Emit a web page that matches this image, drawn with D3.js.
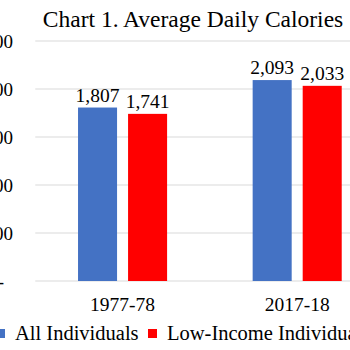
<!DOCTYPE html>
<html>
<head>
<meta charset="utf-8">
<script src="https://cdn.jsdelivr.net/npm/d3@7"></script>
<style>
  body { margin: 0; background: #fff; }
  svg { display: block; font-family: "Liberation Serif", "Times New Roman", serif; }
</style>
</head>
<body>
<svg width="350" height="350"></svg>
<script>
const categories = ["1977-78", "2017-18"];
const seriesNames = ["All Individuals", "Low-Income Individuals"];
const allIndividuals = [1807, 2093];
const lowIncome = [1741, 2033];
const yTicks = [0, 500, 1000, 1500, 2000, 2500];

const colors = ["#4472C4", "#FF0000"];
const values = [allIndividuals, lowIncome];

let svg = d3.select("svg");

let x = d3.scaleBand().domain(categories).range([35.25, 384.5]);
let xSub = d3.scaleBand().domain(seriesNames).range([0, x.bandwidth()])
    .paddingInner(0.22).paddingOuter(0.855);
let y = d3.scaleLinear().domain([0, 2500]).range([281, 41]);

// title
svg.append("text")
    .attr("x", 193)
    .attr("y", 27)
    .attr("text-anchor", "middle")
    .style("font-size", "23.5px")
    .style("fill", "#000")
    .text("Chart 1. Average Daily Calories");

// gridlines
svg.append("g")
  .selectAll("line")
  .data(yTicks)
  .join("line")
    .attr("x1", 35.25)
    .attr("x2", 350)
    .attr("y1", d => y(d))
    .attr("y2", d => y(d))
    .attr("stroke", "#d9d9d9")
    .attr("stroke-width", 1);

// y labels (accounting format, 0 shown as dash)
svg.append("g")
  .selectAll("text")
  .data(yTicks)
  .join("text")
    .attr("x", d => d === 0 ? 4 : 13)
    .attr("y", d => y(d))
    .attr("dy", "0.35em")
    .attr("text-anchor", "end")
    .style("font-size", "19px")
    .text(d => d === 0 ? "-" : d3.format(",")(d));

// bars
let groups = svg.append("g")
  .selectAll("g")
  .data(seriesNames)
  .join("g")
    .attr("fill", (d, i) => colors[i]);

groups.selectAll("rect")
  .data((s, si) => categories.map((c, ci) => ({ cat: c, series: s, value: values[si][ci] })))
  .join("rect")
    .attr("x", d => x(d.cat) + xSub(d.series))
    .attr("width", xSub.bandwidth())
    .attr("y", d => y(d.value))
    .attr("height", d => y(0) - y(d.value));

// data labels
groups.selectAll("text")
  .data((s, si) => categories.map((c, ci) => ({ cat: c, series: s, value: values[si][ci] })))
  .join("text")
    .attr("x", d => x(d.cat) + xSub(d.series) + xSub.bandwidth() / 2)
    .attr("y", d => y(d.value) - 6)
    .attr("text-anchor", "middle")
    .attr("fill", "#000")
    .style("font-size", "19.5px")
    .text(d => d3.format(",")(d.value));

// x labels
svg.append("g")
  .selectAll("text")
  .data(categories)
  .join("text")
    .attr("x", d => x(d) + x.bandwidth() / 2)
    .attr("y", 311)
    .attr("text-anchor", "middle")
    .style("font-size", "19.5px")
    .text(d => d);

// legend
let legendX = [-4, 148];
let legend = svg.append("g")
  .selectAll("g")
  .data(seriesNames)
  .join("g")
    .attr("transform", (d, i) => "translate(" + legendX[i] + ",329)");

legend.append("rect")
    .attr("width", 9)
    .attr("height", 9)
    .attr("fill", (d, i) => colors[i]);

legend.append("text")
    .attr("x", 19)
    .attr("y", 11)
    .style("font-size", "20.5px")
    .text(d => d);
</script>
</body>
</html>
